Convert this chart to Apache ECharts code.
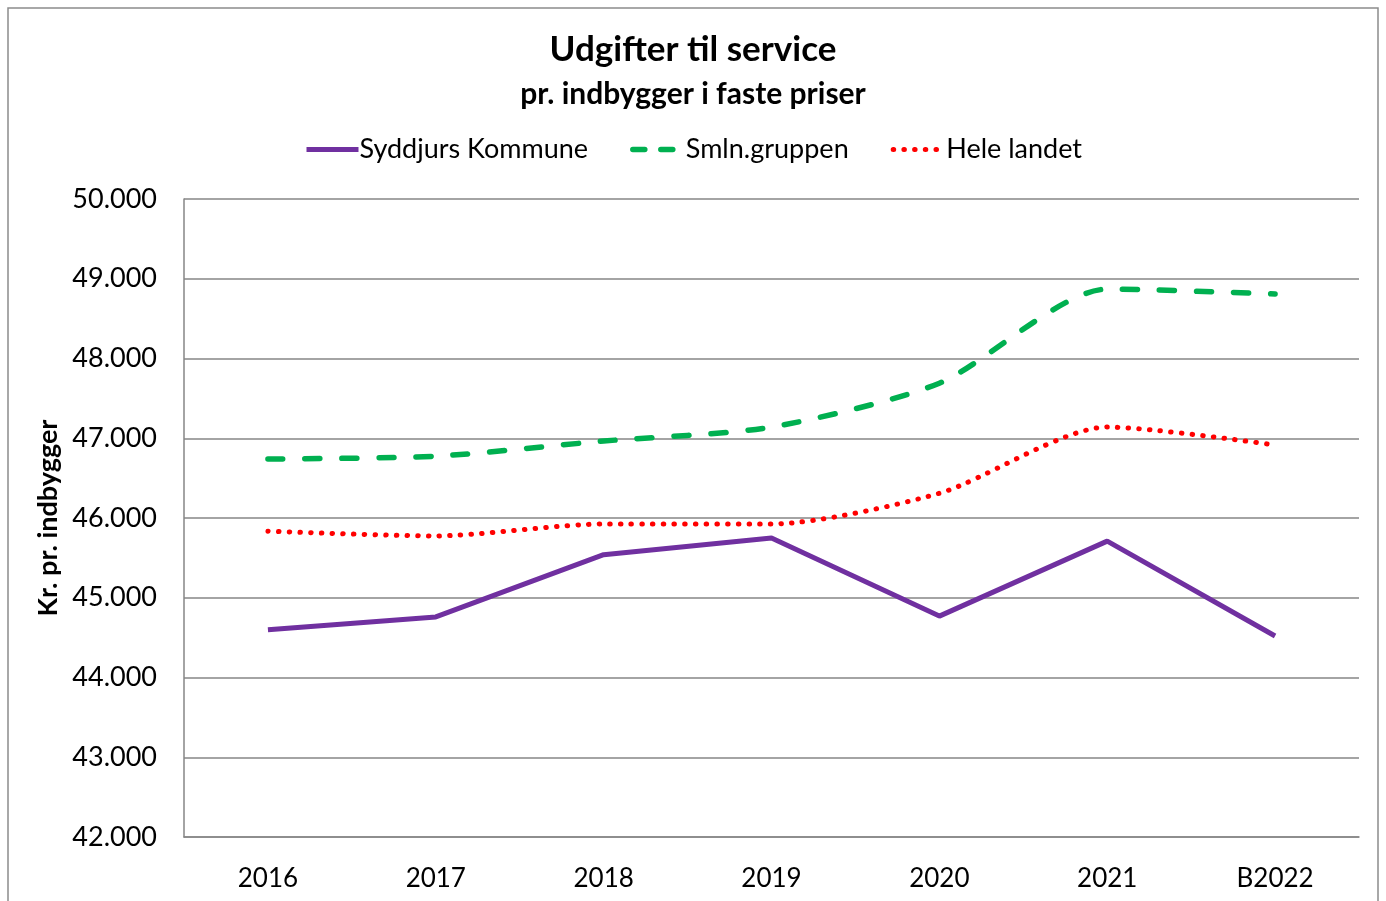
<!DOCTYPE html>
<html>
<head>
<meta charset="utf-8">
<script src="https://cdn.jsdelivr.net/npm/echarts@6/dist/echarts.min.js"></script>
<style>
  html, body { margin: 0; padding: 0; background: #fff; }
  #chart { width: 1386px; height: 901px; }
</style>
</head>
<body>
<div id="chart"></div>
<script>
var years = ['2016', '2017', '2018', '2019', '2020', '2021', 'B2022']
var syddjurs = [44600, 44760, 45540, 45750, 44770, 45710, 44520]
var smlnGruppen = [46740, 46775, 46965, 47140, 47690, 48870, 48810]
var heleLandet = [45835, 45775, 45925, 45925, 46310, 47140, 46915]

var font = 'Lato, "Open Sans", sans-serif'
var chart = echarts.init(document.getElementById('chart'))

function fmt(v) {
  return String(v).replace(/\B(?=(\d{3})+(?!\d))/g, '.')
}

var purpleLine = { width: 5, color: '#7030a0' }
var greenLine = { width: 5.5, color: '#00b050', type: [15, 22], cap: 'round' }
var redLine = { width: 5, color: '#ff0000', type: [0.5, 10.2], cap: 'round' }

var option = {
  backgroundColor: '#fff',
  textStyle: { fontFamily: font },
  title: [{
    text: 'Udgifter til service',
    left: 'center',
    top: 27,
    textStyle: { fontSize: 35, fontWeight: 'bold', color: '#000', fontFamily: font }
  }, {
    text: 'pr. indbygger i faste priser',
    left: 'center',
    top: 74,
    textStyle: { fontSize: 30, fontWeight: 'bold', color: '#000', fontFamily: font }
  }],
  graphic: [{
    type: 'rect',
    shape: { x: 8, y: 8, width: 1370, height: 920 },
    style: { fill: 'none', stroke: '#8c8c8c', lineWidth: 1.5 },
    silent: true
  }],
  legend: {
    top: 131,
    left: 'center',
    itemWidth: 52,
    itemHeight: 14,
    itemGap: 42,
    itemStyle: { opacity: 0 },
    textStyle: { fontSize: 27, color: '#000', padding: [0, 0, 0, -4] },
    data: [
      { name: 'Syddjurs Kommune', lineStyle: purpleLine },
      { name: 'Smln.gruppen', lineStyle: { width: 5.5, color: '#00b050', type: [12, 16], cap: 'round' } },
      { name: 'Hele landet', lineStyle: redLine }
    ]
  },
  grid: { left: 184, right: 27, top: 199, bottom: 64 },
  xAxis: {
    type: 'category',
    data: years,
    boundaryGap: true,
    axisLine: { lineStyle: { color: '#868686', width: 1.5 } },
    axisTick: { show: false },
    axisLabel: { fontSize: 26, color: '#000', margin: 29 }
  },
  yAxis: {
    type: 'value',
    min: 42000,
    max: 50000,
    interval: 1000,
    name: 'Kr. pr. indbygger',
    nameLocation: 'middle',
    nameGap: 120,
    nameTextStyle: { fontSize: 27, fontWeight: 'bold', color: '#000' },
    axisLine: { show: true, lineStyle: { color: '#868686', width: 1.5 } },
    axisTick: { show: false },
    splitLine: { lineStyle: { color: '#868686', width: 1.5 } },
    axisLabel: { fontSize: 27, color: '#000', margin: 27, formatter: fmt }
  },
  series: [{
    name: 'Syddjurs Kommune',
    type: 'line',
    data: syddjurs,
    symbol: 'none',
    color: '#7030a0',
    lineStyle: purpleLine
  }, {
    name: 'Smln.gruppen',
    type: 'line',
    data: smlnGruppen,
    symbol: 'none',
    smooth: 0.25,
    color: '#00b050',
    lineStyle: greenLine
  }, {
    name: 'Hele landet',
    type: 'line',
    data: heleLandet,
    symbol: 'none',
    smooth: 0.25,
    color: '#ff0000',
    lineStyle: redLine
  }]
}
chart.setOption(option)
</script>
</body>
</html>
